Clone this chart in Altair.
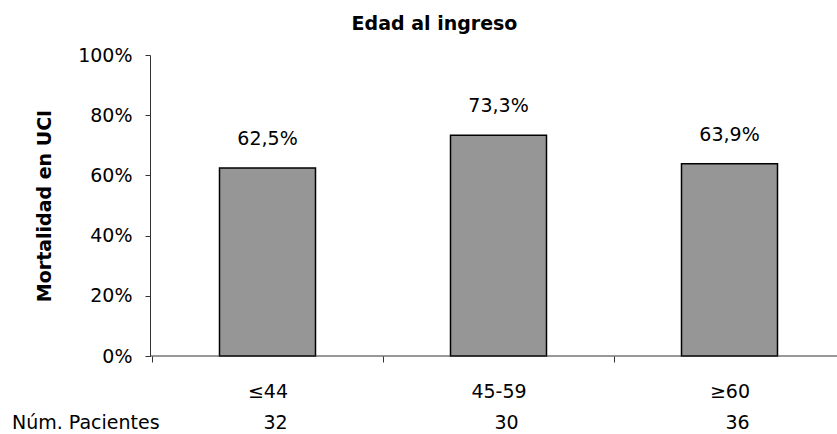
import altair as alt
import pandas as pd

# Mortalidad en UCI por grupo de edad al ingreso
categories = ["≤44", "45-59", "≥60"]
mortality = [62.5, 73.3, 63.9]
patients = [32, 30, 36]
y_ticks = [0, 20, 40, 60, 80, 100]

df = pd.DataFrame({"edad": categories, "mortalidad": mortality, "pacientes": patients})
df["etiqueta"] = [f"{v:.1f}%".replace(".", ",") for v in mortality]

W, H = 687, 301
FONT = "DejaVu Sans"
AXIS_COLOR = "#333333"

x = alt.X(
    "edad:N",
    sort=categories,
    title=None,
    scale=alt.Scale(range=[2, 695], paddingInner=0, paddingOuter=0),
    axis=alt.Axis(
        labelAngle=0,
        domain=False,
        tickBand="extent",
        tickSize=6,
        tickColor=AXIS_COLOR,
        labelFont=FONT,
        labelFontSize=19,
        labelColor="black",
        labelPadding=20,
    ),
)

y = alt.Y(
    "mortalidad:Q",
    scale=alt.Scale(domain=[0, 100]),
    axis=alt.Axis(
        values=y_ticks,
        labelExpr="datum.value + '%'",
        grid=False,
        tickSize=5,
        tickColor=AXIS_COLOR,
        domainColor=AXIS_COLOR,
        labelFont=FONT,
        labelFontSize=19,
        labelColor="black",
        labelPadding=13,
        title="Mortalidad en UCI",
        titleFont=FONT,
        titleFontSize=19,
        titleFontWeight="bold",
        titleColor="black",
        titleAngle=270,
        titleAlign="center",
        titleBaseline="middle",
        titleX=-105.5,
        titleY=150.5,
    ),
)

base = alt.Chart(df)

bars = base.mark_bar(size=96, color="#969696", stroke="black", strokeWidth=1.5).encode(x=x, y=y)

values = base.mark_text(font=FONT, fontSize=19, baseline="middle", dy=-29, color="black").encode(
    x=x, y="mortalidad:Q", text="etiqueta:N"
)

counts = base.mark_text(font=FONT, fontSize=19, baseline="middle", dx=8, color="black").encode(
    x=x, y=alt.value(368), text="pacientes:N"
)

one = alt.Chart(pd.DataFrame({"k": [0]}))

x_line = one.mark_rule(color=AXIS_COLOR, strokeWidth=1).encode(
    x=alt.value(0), x2=alt.value(W), y=alt.value(H)
)

row_label = one.mark_text(font=FONT, fontSize=19, align="left", baseline="middle", color="black").encode(
    x=alt.value(-138), y=alt.value(368), text=alt.value("Núm. Pacientes")
)

title = one.mark_text(font=FONT, fontSize=19, fontWeight="bold", align="center", baseline="middle", color="black").encode(
    x=alt.value(284.5), y=alt.value(-31), text=alt.value("Edad al ingreso")
)

chart = (
    alt.layer(bars, x_line, values, counts, row_label, title)
    .properties(
        width=W,
        height=H,
        autosize=alt.AutoSizeParams(type="none"),
        padding={"left": 150, "top": 55, "right": 0, "bottom": 78},
        background="white",
    )
    .configure_view(stroke=None)
)

chart.save("out.html", embed_options={"renderer": "svg", "actions": False})
